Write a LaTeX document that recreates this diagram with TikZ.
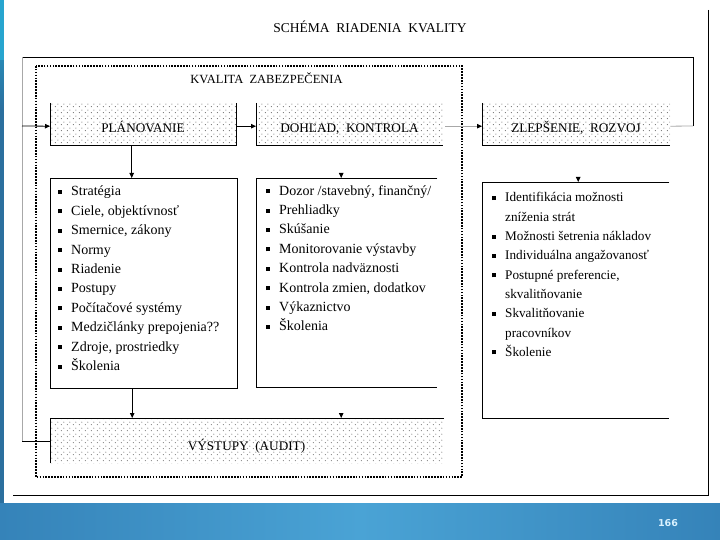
\documentclass[tikz,border=0pt]{standalone}
\usepackage{fontspec}
\setmainfont{Liberation Serif}
\newfontfamily\numfont{DejaVu Sans}
\usetikzlibrary{arrows.meta,patterns,calc}
\pgfdeclarepatternformonly{scandots}{\pgfpoint{0pt}{0pt}}{\pgfpoint{6pt}{6pt}}{\pgfpoint{6pt}{6pt}}{%
  \pgfpathcircle{\pgfpoint{1.5pt}{1.5pt}}{0.5pt}%
  \pgfpathcircle{\pgfpoint{4.5pt}{4.5pt}}{0.5pt}%
  \pgfusepath{fill}}
\definecolor{bandmid}{HTML}{4AA3D5}
\definecolor{bandside}{HTML}{3583B9}
\definecolor{stripdark}{HTML}{2B6F9E}
\definecolor{stripcyan}{HTML}{27A5CF}
\definecolor{pagenum}{HTML}{D9F2FF}
\definecolor{scangray}{HTML}{A8A8A8}
\newcommand{\bl}{\makebox[13pt][l]{\raisebox{1.9pt}{\rule{4pt}{4pt}}}}
\newcommand{\nb}{\makebox[13pt][l]{}}
\tikzset{
  dotbox/.style={rectangle, inner sep=0pt, pattern=scandots, pattern color=black, anchor=north west},
  plainbox/.style={rectangle, inner sep=0pt, anchor=north west},
  listtext/.style={inner sep=0pt, anchor=north west, align=left, font=\fontsize{14}{19.4}\selectfont},
  listsmall/.style={listtext, font=\fontsize{13.2}{19.3}\selectfont},
  side/.style={line width=0.8pt, black},
  conn/.style={line width=0.8pt, black},
  arr/.style={conn, -{Triangle[length=5pt,width=4.5pt]}},
  ghostarr/.style={line width=0.8pt, white, -{Triangle[length=5pt,width=4.5pt,black]}},
  grayconn/.style={line width=0.8pt, scangray},
  zone/.style={line width=1.8pt, dash pattern=on 1.6pt off 1.3pt, black},
  heading/.style={inner sep=0pt, anchor=base, font=\fontsize{12.5}{14}\selectfont},
  boxlabel/.style={heading, font=\fontsize{13.2}{15}\selectfont},
}
\begin{document}
\begin{tikzpicture}[x=1pt,y=-1pt]
\useasboundingbox (0,0) rectangle (720,540);
% slide decorations
\fill[stripdark] (0,0) rectangle (3.5,503);
\shade[top color=stripcyan, bottom color=stripdark] (0,0) rectangle (3.5,110);
\fill[stripcyan] (0,0) rectangle (3.5,60);
\shade[left color=bandside, right color=bandside, middle color=bandmid] (0,503) rectangle (720,540);
\node[inner sep=0pt, text=pagenum, font=\numfont\bfseries\fontsize{9.5}{11}\selectfont] (pnum) at (668,523) {166};
% scan border lines
\draw[line width=0.8pt] (708,10) -- (708,495) -- (13,495);

% titles
\node[heading, font=\fontsize{13.5}{15}\selectfont] (title) at (370,33) {SCHÉMA\ \ RIADENIA\ \ KVALITY};
\node[heading] (kz) at (266.5,83.5) {KVALITA\ \ ZABEZPEČENIA};

% dotted zone
\draw[zone] (36,66) rectangle (462,477);

% header boxes
\node[dotbox, minimum width=186pt, minimum height=42pt] (plan) at (50,103) {};
\node[boxlabel] (planl) at (143,133) {PLÁNOVANIE};
\draw[side] (plan.north west) -- (plan.south west) -- (plan.south east) -- (plan.north east);

\node[dotbox, minimum width=187pt, minimum height=42pt] (doh) at (256,103) {};
\node[boxlabel] (dohl) at (349.5,133) {DOHĽAD,\ \ KONTROLA};
\draw[side] (doh.north west) -- (doh.south west) -- (doh.south east);

\node[dotbox, minimum width=188pt, minimum height=42pt] (zlep) at (482,103) {};
\node[boxlabel] (zlepl) at (576,133) {ZLEPŠENIE,\ \ ROZVOJ};
\draw[side] (zlep.north west) -- (zlep.south west) -- (zlep.south east);

\node[dotbox, minimum width=394pt, minimum height=45pt] (vys) at (50,418) {};
\node[boxlabel] (vysl) at (246.5,450) {VÝSTUPY\ \ (AUDIT)};
\draw[side] (vys.south west) -- (vys.north west) -- (vys.north east);

% list boxes
\node[plainbox, minimum width=187pt, minimum height=210pt] (lplan) at (50,178) {};
\draw[side] (lplan.north west) rectangle (lplan.south east);
\node[listtext] (tplan) at (58,186) {\bl Stratégia\\ \bl Ciele, objektívnosť\\ \bl Smernice, zákony\\ \bl Normy\\
  \bl Riadenie\\ \bl Postupy\\ \bl Počítačové systémy\\ \bl Medzičlánky prepojenia??\\ \bl Zdroje, prostriedky\\ \bl Školenia};

\node[plainbox, minimum width=181pt, minimum height=209pt] (ldoh) at (256,178) {};
\draw[side] (ldoh.north east) -- (ldoh.north west) -- (ldoh.south west) -- (ldoh.south east);
\node[listtext] (tdoh) at (266,185) {\bl Dozor /stavebný, finančný/\\ \bl Prehliadky\\ \bl Skúšanie\\ \bl Monitorovanie výstavby\\
  \bl Kontrola nadväznosti\\ \bl Kontrola zmien, dodatkov\\ \bl Výkaznictvo\\ \bl Školenia};

\node[plainbox, minimum width=187pt, minimum height=236pt] (lzlep) at (482,182) {};
\draw[side] (lzlep.north east) -- (lzlep.north west) -- (lzlep.south west) -- (lzlep.south east);
\node[listsmall] (tzlep) at (492,192.5) {\bl Identifikácia možnosti\\ \nb zníženia strát\\ \bl Možnosti šetrenia nákladov\\
  \bl Individuálna angažovanosť\\ \bl Postupné preferencie,\\ \nb skvalitňovanie\\ \bl Skvalitňovanie\\ \nb pracovníkov\\ \bl Školenie};

% connectors between stages
\draw[arr] ([yshift=-2pt]plan.east) -- ([yshift=-2pt]doh.west);
\draw[grayconn] ([yshift=-2pt,xshift=2pt]doh.east) -- ([yshift=-2pt,xshift=-5pt]zlep.west);
\draw[ghostarr] ([yshift=-2pt,xshift=-5.5pt]zlep.west) -- ([yshift=-2pt]zlep.west);
% downward
\coordinate (pd) at ($(plan.south)+(-11.5,0)$);
\draw[arr] (pd) -- (pd |- lplan.north);
\coordinate (dd) at ($(doh.south)+(-8.5,20)$);
\draw[ghostarr] (dd) -- (dd |- ldoh.north);
\coordinate (zd) at ($(zlep.south)+(2,22)$);
\draw[ghostarr] (zd) -- (zd |- lzlep.north);
\coordinate (ld) at ($(lplan.south)+(-11.5,1)$);
\draw[arr] (ld) -- (ld |- vys.north);
\coordinate (md) at ($(ldoh.south)+(-5.5,22)$);
\draw[ghostarr] (md) -- (md |- vys.north);

% feedback loop
\coordinate (fbr) at (693,126);
\coordinate (fbtr) at (693,57);
\coordinate (fbtl) at (22,57);
\coordinate (fbin) at (22,126);
\coordinate (fbout) at (22,441);
\draw[grayconn] ([yshift=-2pt]zlep.east) -- (fbr);
\draw[conn] (fbr) -- (fbtr) -- (fbtl);
\draw[grayconn] (fbtl) -- (fbout);
\draw[arr] (fbin) -- ([yshift=-2pt]plan.west);
\draw[conn] (fbout) -- (fbout -| vys.west);
\end{tikzpicture}
\end{document}
